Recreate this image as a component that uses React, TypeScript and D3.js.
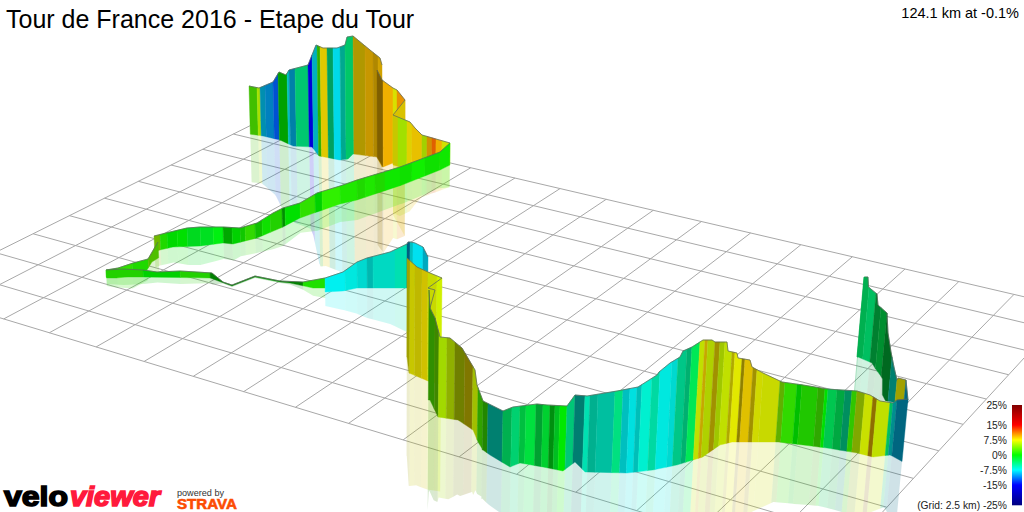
import React from "react";
import * as d3 from "d3";

const titleText = "Tour de France 2016 - Etape du Tour";
const statusText = "124.1 km at -0.1%";
const legendGrades = [25, 15, 7.5, 0, -7.5, -15, -25];
const legendLabels = ["25%", "15%", "7.5%", "0%", "-7.5%", "-15%", "(Grid: 2.5 km) -25%"];
const gradeColors = ["#800000", "#ff0000", "#ffff00", "#00ff00", "#00ffff", "#0000ff", "#000080"];

const gridRows = d3.range(0, 11);
const gridCols = d3.range(0, 18);
// ground reference marks: [column, row, picture x, picture y]
const groundMarks = [
  [0, 0, 263, 119], [8, 0, 606, 199], [16, 0, 1014, 295], [0, 8, -4, 253],
  [2, 10, 3, 319], [10, 10, 403, 440], [14, 10, 637, 510],
];

// Route sections. crest* = top of the curtain, foot* = ground; bands = [end, grade %, light]
const farLeftCrestX = [249, 259, 273, 279, 286, 289, 308, 316, 323, 337, 345, 347, 353];
const farLeftCrestY = [86, 88, 82, 72, 75, 70, 65, 45, 48, 48, 45, 37, 36];
const farLeftFootX = [249, 263, 280, 293, 312, 319, 340, 348, 353];
const farLeftFootY = [134, 136, 140, 146, 147, 156, 160, 159, 154];
const farLeftBands = [[257, 2.5, .75], [260, 5.6, .88], [265, -8.9, .69], [273, -10, .75], [278, -12.1, .82], [287, 0, .63], [289, -7.5, .75], [295, -9.3, .66], [308, -4.2, .78], [312, -15, .85], [317, -8.1, .75], [320, 2, .69], [327, 8.3, .88], [333, -4.5, .63], [340, -8, .91], [345, -6.4, .66], [353, -3.9, .78]];

const summitCrestX = [353, 370, 380, 382];
const summitCrestY = [36, 50, 58, 65];
const summitFootX = [353, 377, 382];
const summitFootY = [154, 157, 167];
const summitBands = [[365, 8.5, .69], [373, 9.3, .78], [378, 9.2, .69], [382, 9.2, .82]];

const shoulderCrestX = [377, 382, 393, 397, 405];
const shoulderCrestY = [70, 80, 88, 90, 100];
const shoulderFootX = [377, 383, 393, 405];
const shoulderFootY = [157, 167, 163, 168];
const shoulderBands = [[383, 9.4, .5], [393, 9.5, .94], [397, 7.2, .88], [405, 10.3, .91]];

const kinkCrestX = [393, 405];
const kinkCrestY = [115, 100];
const kinkFootX = [393, 405];
const kinkFootY = [165, 168];
const kinkBands = [[405, 8.3, .85]];

const descentCrestX = [393, 410, 415, 422, 450];
const descentCrestY = [115, 122, 128, 135, 143];
const descentFootX = [393, 400, 450];
const descentFootY = [164, 167, 165];
const descentBands = [[398, 7.5, .78], [407, 5.4, .88], [412, 8, .88], [422, 8.8, .91], [427, 5.8, .82], [432, 9.8, .82], [436, 11.8, .88], [442, 9.5, .94], [450, 7, .88]];

const ribbonCrestX = [154, 170, 187, 200, 223, 240, 257, 273, 283, 300, 317, 340, 357, 400, 440, 450];
const ribbonCrestY = [236, 232, 228, 227, 227, 228, 223, 213, 208, 203, 193, 186, 180, 167, 152, 143];
const ribbonFootX = [154, 160, 173, 200, 223, 233, 257, 283, 300, 317, 340, 357, 402, 440, 450];
const ribbonFootY = [252, 250, 247, 246, 243, 244, 238, 227, 218, 212, 204, 200, 185, 170, 165];
const ribbonBands = [[160, 4.6, .72], [167, 1.1, .85], [177, 0, .85], [187, 0, .88], [200, -1.1, .85], [213, -1.1, .88], [223, -.5, .94], [232, 0, .66], [240, 0, .82], [245, .6, .78], [255, 1.7, .85], [262, .6, .75], [270, .5, .88], [282, 1.2, .82], [285, 0, .56], [300, 0, .88], [315, 1.6, .88], [322, 0, .82], [340, 1.5, .94], [357, 1, .91], [365, 1.1, .85], [375, 1, .91], [385, 1.1, .85], [400, .5, .91], [412, .5, .88], [425, .5, .94], [440, .5, .88], [450, .5, .91]];

const hairpinCrestX = [106, 118, 133, 148, 155, 158];
const hairpinCrestY = [270, 268, 263, 259, 247, 242];
const hairpinFootX = [106, 117, 132, 147, 152, 160];
const hairpinFootY = [278, 278, 276, 270, 262, 257];
const hairpinBands = [[117, 1.2, .82], [132, 1.6, .88], [148, 1.1, .85], [158, 3.1, .75]];

const valleyCrestX = [106, 123, 143, 157, 180, 197, 212, 223, 232, 255, 280, 303, 325];
const valleyCrestY = [270, 269, 270, 272, 271, 272, 273, 282, 285, 276, 281, 282, 278];
const valleyFootX = [106, 143, 210, 232, 255, 280, 290, 313, 325];
const valleyFootY = [277, 277, 278, 286, 277, 282, 283, 288, 288];
const valleyBands = [[143, 1.2, .82], [180, 0, .82], [210, 1.2, .82], [232, 0, .5], [255, 0, .5], [280, 0, .56], [303, 0, .5], [325, 1, .88]];

const cyanCrestX = [325, 343, 357, 367, 390, 407, 408, 411, 415, 423, 428];
const cyanCrestY = [278, 272, 262, 258, 252, 244, 242, 242, 243, 247, 257];
const cyanFootX = [325, 343, 357, 370, 407, 428];
const cyanFootY = [292, 291, 288, 288, 288, 281];
const cyanBands = [[345, -7.5, .94], [357, -7.2, .91], [367, -7.2, .85], [373, -7.2, .72], [395, -6.7, .85], [407, -5.9, .88], [410, -9.4, .5], [413, -7.5, .75], [423, -8, .94], [428, -8.4, .75]];

const cliffCrestX = [407, 417, 430, 442];
const cliffCrestY = [258, 267, 273, 278];
const cliffFootX = [407, 409, 428, 442];
const cliffFootY = [357, 373, 381, 385];
const cliffBands = [[410, 7.5, .63], [415, 7.5, .78], [422, 7.8, .75], [428, 8.1, .82], [437, 6.9, .85], [442, 6.5, .94]];
const cliffZigX = [442, 428, 435, 430];
const cliffZigY = [278, 288, 290, 308];

const slopeCrestX = [429, 430, 435, 440, 450, 462, 475, 477, 483];
const slopeCrestY = [290, 308, 318, 337, 338, 348, 370, 385, 401];
const slopeFootX = [430, 438, 458, 473, 478, 483];
const slopeFootY = [400, 417, 420, 430, 442, 450];
const slopeBands = [[435, 2.5, .56], [439, 3.5, .53], [447, 5.6, .85], [455, 6.1, .69], [465, 6.6, .5], [473, 8, .5], [478, 6.3, .75], [483, 2.3, .63]];

const eastCrestX = [865, 868, 868.5, 877, 878, 887, 888, 891, 894, 897, 898, 906, 908];
const eastCrestY = [277, 277, 287, 294, 305, 313, 333, 352, 367, 380, 378, 380, 400];
const eastFootX = [858, 871, 881, 882, 897, 908];
const eastFootY = [357, 363, 380, 400, 403, 403];
const eastBands = [[864, -3, .63], [869, -3.4, .69], [876, -3.75, .75], [881, -2.8, .5], [887, -2.5, .56], [892, -2.3, .41], [897, -6.6, .5], [906, 7.5, .63], [908, -9, .5]];

const mainCrestX = [483, 503, 513, 537, 547, 567, 575, 587, 617, 638, 657, 659, 670, 680, 683, 692, 703, 712, 715, 727, 728, 737, 738, 750, 752, 763, 782, 803, 827, 857, 870, 880, 893, 897, 908];
const mainCrestY = [401, 411, 407, 404, 405, 406, 395, 396, 391, 387, 375, 372, 363, 357, 351, 347, 340, 340, 342, 342, 351, 353, 358, 360, 367, 373, 382, 385, 389, 391, 395, 401, 403, 400, 399];
const mainFootX = [483, 490, 510, 520, 543, 563, 575, 585, 627, 653, 677, 690, 703, 720, 732, 743, 778, 803, 827, 857, 873, 890, 903];
const mainFootY = [450, 455, 467, 463, 467, 471, 462, 472, 473, 470, 465, 461, 457, 445, 442, 442, 442, 445, 448, 453, 457, 455, 462];
const mainBands = [[488, 1.9, .53], [503, -6.6, .5], [512, -3.4, .69], [520, -4, .82], [526, -2.5, .75], [536, -2.1, .88], [543, -2.3, .63], [550, -1.7, .82], [555, -.8, .56], [560, -1.25, .75], [567, 0, .91], [575, -4.5, .78], [585, -6.8, .49], [590, -5.9, .88], [598, -6.1, .69], [615, -6.25, .75], [623, -4.3, .88], [630, -7.5, .75], [637, -7.5, .88], [642, -7.2, .75], [652, -6.5, .94], [660, -5.6, .85], [672, -7.2, .91], [678, -7.2, .85], [687, -5.1, .78], [692, -4.8, .69], [700, -2.8, .91], [705, 6.4, .88], [708, 8.7, .78], [715, 6.3, .82], [720, 8.25, .63], [725, 6, .78], [732, 6.4, .88], [735, 7.8, .69], [742, 7.3, .91], [745, 8.3, .56], [753, 8.6, .88], [757, 8.25, .63], [763, 7.2, .85], [780, 6.9, .85], [785, 4.1, .69], [797, 1.7, .85], [802, 0, .75], [818, 1.2, .78], [825, 2.1, .66], [828, 0, .88], [837, -3, .78], [845, -2.9, .66], [852, -5, .56], [857, 1.8, .78], [865, 5.7, .66], [873, 6.7, .88], [877, 9.2, .56], [890, 6.4, .88], [893, -3.75, .75], [897, -7.5, .56], [908, -9, .5]];

const sections = [
  [farLeftCrestX, farLeftCrestY, farLeftFootX, farLeftFootY, farLeftBands],
  [summitCrestX, summitCrestY, summitFootX, summitFootY, summitBands],
  [shoulderCrestX, shoulderCrestY, shoulderFootX, shoulderFootY, shoulderBands],
  [kinkCrestX, kinkCrestY, kinkFootX, kinkFootY, kinkBands],
  [descentCrestX, descentCrestY, descentFootX, descentFootY, descentBands],
  [ribbonCrestX, ribbonCrestY, ribbonFootX, ribbonFootY, ribbonBands],
  [hairpinCrestX, hairpinCrestY, hairpinFootX, hairpinFootY, hairpinBands],
  [valleyCrestX, valleyCrestY, valleyFootX, valleyFootY, valleyBands],
  [cyanCrestX, cyanCrestY, cyanFootX, cyanFootY, cyanBands],
  [cliffCrestX, cliffCrestY, cliffFootX, cliffFootY, cliffBands],
  [slopeCrestX, slopeCrestY, slopeFootX, slopeFootY, slopeBands],
  [eastCrestX, eastCrestY, eastFootX, eastFootY, eastBands],
  [mainCrestX, mainCrestY, mainFootX, mainFootY, mainBands],
] as any[];

const gradeScale = d3.scaleLinear<string>().domain(legendGrades).range(gradeColors).interpolate(d3.interpolateRgb);
function shaded(grade: number, light: number) {
  const c = d3.rgb(gradeScale(grade));
  return d3.rgb(c.r * light, c.g * light, c.b * light).formatHex();
}

// Least-squares plane-to-picture mapping fitted to the ground marks
function fitGround(marks: number[][]) {
  const n = 8;
  const A = d3.range(n).map(() => new Array(n + 1).fill(0));
  const add = (row: number[], rhs: number) => {
    for (let a = 0; a < n; a++) {
      for (let b = 0; b < n; b++) A[a][b] += row[a] * row[b];
      A[a][n] += row[a] * rhs;
    }
  };
  for (const [u, v, x, y] of marks) {
    add([u, v, 1, 0, 0, 0, -u * x, -v * x], x);
    add([0, 0, 0, u, v, 1, -u * y, -v * y], y);
  }
  for (let c = 0; c < n; c++) {
    let p = c;
    for (let r = c + 1; r < n; r++) if (Math.abs(A[r][c]) > Math.abs(A[p][c])) p = r;
    [A[c], A[p]] = [A[p], A[c]];
    for (let r = 0; r < n; r++) {
      if (r === c) continue;
      const f = A[r][c] / A[c][c];
      for (let k = c; k <= n; k++) A[r][k] -= f * A[c][k];
    }
  }
  const h = A.map((r, i) => r[n] / r[i]);
  return (u: number, v: number): [number, number] => {
    const w = h[6] * u + h[7] * v + 1;
    return [(h[0] * u + h[1] * v + h[2]) / w, (h[3] * u + h[4] * v + h[5]) / w];
  };
}
const ground = fitGround(groundMarks);
const line = d3.line();

const lean = d3.scaleLinear().domain([395, 5765]).range([0, 1]);

function buildSection([cx, cy, fx, fy, bands]: any[]) {
  const crest = d3.scaleLinear().domain(cx).range(cy).clamp(true);
  const foot = d3.scaleLinear().domain(fx).range(fy).clamp(true);
  const sample = (x: number) => {
    const t = crest(x);
    const h0 = foot(x) - t;
    const xb = x - lean(x) * h0;
    const b = foot(xb);
    const h = b - t;
    return { x, t, xb: x - lean(x) * h, b, xr: x - 2 * lean(x) * h, r: b + h };
  };
  const knots = [...cx, ...fx.map((x: number) => x + lean(x) * Math.max(0, foot(x) - crest(x)))];
  let start = cx[0];
  const slices = bands.map(([end, grade, light]: number[]) => {
    const xs = [start, ...knots.filter((k: number) => k > start && k < end).sort(d3.ascending), end];
    const pts = xs.map(sample);
    start = end;
    const rev = [...pts].reverse();
    return {
      fill: shaded(grade, light),
      wall: line([...pts.map((p) => [p.x, p.t] as [number, number]), ...rev.map((p) => [p.xb, p.b] as [number, number])]) + "Z",
      mirror: line([...pts.map((p) => [p.xb, p.b] as [number, number]), ...rev.map((p) => [p.xr, p.r] as [number, number])]) + "Z",
    };
  });
  const ridge = line(cx.map((x: number, i: number) => [x, cy[i]] as [number, number]));
  return { slices, ridge };
}
const built = sections.map(buildSection);

const legendY = d3.scaleLinear().domain([25, -25]).range([405, 505]);
const legendSteps = d3.range(25, -25, -0.5);

export default function App() {
  return (
    <svg width={1024} height={512} viewBox="0 0 1024 512"
      style={{ position: "absolute", left: 0, top: 0, display: "block", background: "#fff", fontFamily: "'Liberation Sans', Arial, sans-serif" }}>
      <g fill="none" stroke="#a8a8a8" strokeWidth={1}>
        {gridRows.map((r) => <path key={"r" + r} d={line([ground(gridCols[0], r), ground(gridCols[gridCols.length - 1], r)]) as string} />)}
        {gridCols.map((c) => <path key={"c" + c} d={line([ground(c, gridRows[0]), ground(c, gridRows[gridRows.length - 1])]) as string} />)}
      </g>
      <g fillOpacity={0.19}>
        {built.map((s, i) => s.slices.map((b: any, j: number) => <path key={i + "m" + j} d={b.mirror} fill={b.fill} />))}
      </g>
      {built.map((s, i) => (
        <g key={i}>
          {s.slices.map((b: any, j: number) => <path key={j} d={b.wall} fill={b.fill} stroke={b.fill} strokeWidth={0.4} />)}
          <path d={s.ridge as string} fill="none" stroke="#5f6a5f" strokeWidth={1} strokeOpacity={0.75} />
          {sections[i][0] === cliffCrestX && (
            <path d={line(cliffZigX.map((x, k) => [x, cliffZigY[k]] as [number, number])) as string} fill="none" stroke="#5f6a5f" strokeWidth={1} strokeOpacity={0.8} />
          )}
        </g>
      ))}
      <text x={6} y={28} fontSize={25} fill="#000">{titleText}</text>
      <text x={1019} y={18} fontSize={14.5} textAnchor="end" fill="#000">{statusText}</text>
      {legendSteps.map((g) => (
        <rect key={g} x={1012} y={legendY(g)} width={10} height={legendY(g - 0.5) - legendY(g) + 0.3} fill={gradeScale(g - 0.25)} />
      ))}
      {legendGrades.map((g, i) => (
        <text key={g} x={1007} y={legendY(g) + 4} fontSize={10.3} textAnchor="end" fill="#222">{legendLabels[i]}</text>
      ))}
      <text x={4} y={506} fontSize={28} fontWeight={700} fill="#000" stroke="#000" strokeWidth={1.6} textLength={64} lengthAdjust="spacingAndGlyphs">velo</text>
      <text x={70} y={506} fontSize={28} fontWeight={700} fontStyle="italic" fill="#ff1a3c" stroke="#ff1a3c" strokeWidth={1.6} textLength={90} lengthAdjust="spacingAndGlyphs">viewer</text>
      <text x={177} y={496} fontSize={9.5} fill="#333" textLength={47} lengthAdjust="spacingAndGlyphs">powered by</text>
      <text x={177} y={509} fontSize={14} fontWeight={700} fill="#fc4c02" stroke="#fc4c02" strokeWidth={0.6} textLength={60} lengthAdjust="spacingAndGlyphs">STRAVA</text>
    </svg>
  );
}
